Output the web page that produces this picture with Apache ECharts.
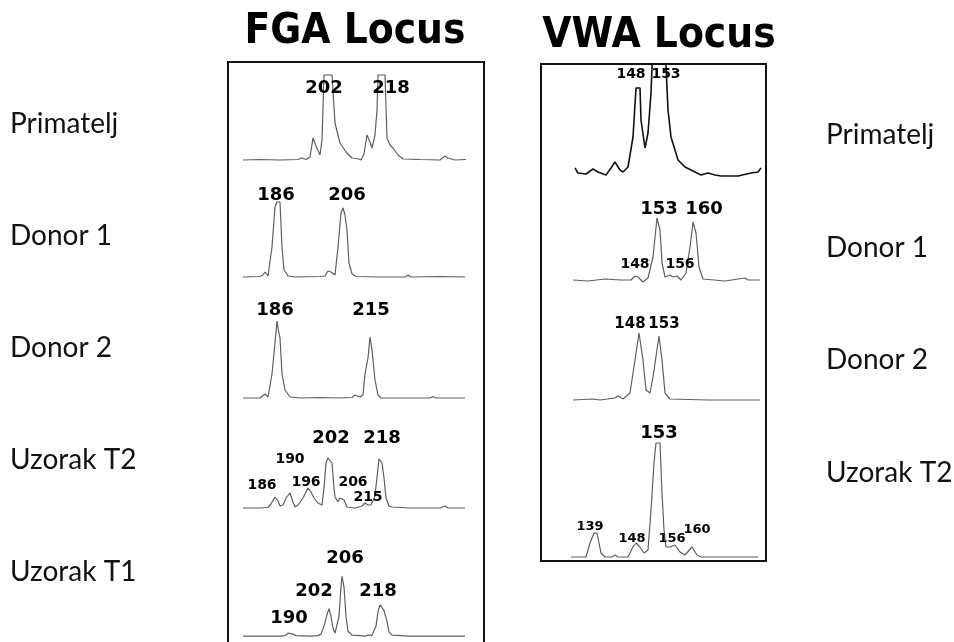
<!DOCTYPE html>
<html>
<head>
<meta charset="utf-8">
<title>FGA / VWA Locus</title>
<script src="https://cdn.jsdelivr.net/npm/echarts@6/dist/echarts.min.js"></script>
<style>
  html, body { margin: 0; padding: 0; background: #fff; }
  #chart { width: 954px; height: 642px; }
</style>
</head>
<body>
<div id="chart"></div>
<script>
// row names
const fgaRows = ["Primatelj", "Donor 1", "Donor 2", "Uzorak T2", "Uzorak T1"];
const vwaRows = ["Primatelj", "Donor 1", "Donor 2", "Uzorak T2"];

// FGA traces: [scan position, signal]
const fgaPrimatelj = [[3,0],[20,0.5],[40,0],[58,0.5],[62,2],[66,0.5],[70,3],[73,22],[76,14],[80,5],[82,20],[84,85],[92,85],[95,37],[100,17],[106,8],[112,2],[117,1.5],[121,0],[124,6],[127,25],[130,18],[132,12],[135,25],[137,50],[138,85],[145,85],[147,22],[150,15],[153,12],[158,5],[163,1],[180,0.5],[200,0],[205,4],[208,2],[215,0],[226,0.5]];
const fgaDonor1 = [[3,0],[20,0.5],[23,2],[25,5],[28,1],[30,2],[32,30],[35,70],[37,75],[40,75],[42,30],[44,7],[48,1],[55,0],[80,0.5],[85,1],[88,6],[91,5],[93,6],[95,2],[98,30],[101,64],[103,69],[105,62],[107,47],[109,14],[112,3],[116,0.5],[140,0],[165,0],[168,2],[171,0],[200,0.5],[225,0]];
const fgaDonor2 = [[3,0],[20,0],[22,0.5],[25,4],[28,1],[30,2],[32,24],[35,55],[37,77],[38,70],[40,60],[42,24],[45,8],[50,1],[60,0],[80,0.5],[100,0],[112,0.5],[115,3],[117,4],[120,1],[123,3],[125,24],[128,40],[130,61],[132,48],[135,18],[138,3],[141,0],[170,0],[190,0],[193,1.5],[196,0],[225,0]];
const fgaUzorakT2 = [[3,0],[20,0],[28,0.5],[31,4],[35,11],[38,7],[40,2],[43,3],[46,10],[50,15],[53,6],[55,1],[58,3],[63,10],[66,16],[68,20],[71,16],[74,10],[78,5],[82,3],[84,20],[86,45],[88,50],[90,49],[92,45],[94,20],[95,11],[98,6],[100,10],[102,12],[104,8],[107,1],[115,0],[122,2],[125,5],[128,3],[131,3],[133,2],[135,12],[137,31],[139,49],[140,50],[142,45],[144,30],[146,10],[149,2],[152,1],[170,0],[200,0],[205,2],[208,0],[225,0]];
const fgaUzorakT1 = [[3,0],[20,0],[40,0],[45,0.5],[48,3],[50,5],[53,2],[56,0.5],[70,0],[78,0.5],[81,2],[84,10],[87,22],[89,28],[91,20],[93,8],[95,3],[97,2],[99,20],[101,50],[102,61],[104,50],[106,20],[108,5],[112,1],[120,0.5],[125,0],[128,1],[132,1],[136,10],[138,25],[140,32],[142,33],[144,26],[147,15],[149,4],[152,1],[170,0],[200,0],[225,0]];

// VWA traces: [scan position, signal]
const vwaPrimatelj = [[5,5],[8,0],[16,-1],[23,4],[28,1],[36,-2],[41,5],[45,11],[50,3],[53,1],[58,6],[63,36],[66,85],[70,85],[71,53],[75,25],[78,40],[81,80],[83,130],[95,130],[98,63],[101,36],[108,13],[115,6],[125,1],[131,-2],[138,0],[145,-2],[151,-3],[168,-3],[181,0],[188,1],[191,5]];
const vwaDonor1 = [[3,0],[18,-1],[35,1],[51,0],[61,0],[65,4],[68,3],[73,-2],[78,2],[83,23],[87,62],[90,50],[92,17],[95,3],[100,5],[103,3],[107,4],[111,0],[116,7],[120,33],[123,58],[126,47],[129,13],[133,1],[155,-1],[175,2],[178,0],[190,0]];
const vwaDonor2 = [[3,0],[23,1],[25,3],[30,0],[45,2],[48,4],[53,1],[60,7],[65,40],[69,67],[73,40],[76,10],[80,7],[83,23],[89,64],[92,40],[95,7],[100,1],[138,0],[140,1.5],[143,0],[190,0]];
const vwaUzorakT2 = [[1,0],[16,0],[20,14],[24,24],[27,24],[31,4],[35,0],[42,0],[45,2],[48,0],[58,0],[63,10],[66,14],[70,10],[74,4],[78,7],[81,47],[84,94],[86,114],[90,114],[92,64],[94,27],[96,10],[100,10],[105,12],[110,5],[115,2],[122,10],[127,2],[131,0],[188,0]];

// allele labels: [scan position, signal, allele]
const fgaPrimateljAlleles = [[84,72,"202"],[151,72,"218"]];
const fgaDonor1Alleles = [[36,82,"186"],[107,82,"206"]];
const fgaDonor2Alleles = [[35,88,"186"],[131,88,"215"]];
const fgaUzorakT2Alleles = [[91,70,"202"],[142,70,"218"]];
const fgaUzorakT2Minor = [[50,49,"190"],[22,23,"186"],[66,26,"196"],[113,26,"206"],[128,11,"215"]];
const fgaUzorakT1Alleles = [[105,79,"206"],[74,46,"202"],[138,46,"218"],[49,18,"190"]];
const vwaPrimateljMinor = [[61,99,"148"],[96,99,"153"]];
const vwaDonor1Alleles = [[89,71,"153"],[134,71,"160"]];
const vwaDonor1Minor = [[65,16,"148"],[110,16,"156"]];
const vwaDonor2Minor = [[60,76,"148"],[94,76,"153"]];
const vwaUzorakT2Alleles = [[89,124,"153"]];
const vwaUzorakT2Minor = [[20,30,"139"],[62,18,"148"],[102,18,"156"],[127,27,"160"]];

const chart = echarts.init(document.getElementById("chart"));

const FGA = { left: 240, width: 230 };
const VWA = { left: 570, width: 195 };
const Y_MIN = -6;

// panel layout: which trace goes where (baseline in px)
const panels = [
  { box: FGA, baseline: 160, yMax: 98,  line: fgaPrimatelj, big: fgaPrimateljAlleles, small: [] },
  { box: FGA, baseline: 277, yMax: 100, line: fgaDonor1,    big: fgaDonor1Alleles,    small: [] },
  { box: FGA, baseline: 398, yMax: 100, line: fgaDonor2,    big: fgaDonor2Alleles,    small: [] },
  { box: FGA, baseline: 508, yMax: 100, line: fgaUzorakT2,  big: fgaUzorakT2Alleles,  small: fgaUzorakT2Minor },
  { box: FGA, baseline: 638, yMax: 100, line: fgaUzorakT1,  big: fgaUzorakT1Alleles,  small: [] },
  { box: VWA, baseline: 173, yMax: 109, line: vwaPrimatelj, big: [],                  small: vwaPrimateljMinor, dark: true },
  { box: VWA, baseline: 280, yMax: 100, line: vwaDonor1,    big: vwaDonor1Alleles,    small: vwaDonor1Minor },
  { box: VWA, baseline: 400, yMax: 100, line: vwaDonor2,    big: [],                  small: vwaDonor2Minor, mid: true },
  { box: VWA, baseline: 557, yMax: 130, line: vwaUzorakT2,  big: vwaUzorakT2Alleles,  small: vwaUzorakT2Minor, tiny: true },
];

const grid = [], xAxis = [], yAxis = [], series = [];
panels.forEach((p, i) => {
  grid.push({
    left: p.box.left,
    width: p.box.width,
    top: p.baseline - p.yMax,
    height: p.yMax - Y_MIN,
  });
  xAxis.push({ type: "value", gridIndex: i, min: 0, max: p.box.width, show: false });
  yAxis.push({ type: "value", gridIndex: i, min: Y_MIN, max: p.yMax, show: false });
  series.push({
    type: "line",
    xAxisIndex: i,
    yAxisIndex: i,
    data: p.line,
    showSymbol: false,
    clip: true,
    lineStyle: { color: p.dark ? "#111" : "#5e5e5e", width: p.dark ? 1.6 : 1.2 },
    silent: true,
  });
  const labelSeries = (data, size) => ({
    type: "scatter",
    xAxisIndex: i,
    yAxisIndex: i,
    data: data,
    symbolSize: 0,
    itemStyle: { color: "#000" },
    silent: true,
    z: 5,
    label: {
      show: true,
      position: "inside",
      formatter: (d) => d.value[2],
      fontFamily: "DejaVu Sans",
      fontWeight: "bold",
      fontSize: size,
      color: "#000",
      textBorderWidth: 0,
      opacity: 1,
    },
  });
  if (p.big.length) series.push(labelSeries(p.big, 18));
  if (p.small.length) series.push(labelSeries(p.small, p.tiny ? 13 : p.mid ? 15 : 14));
});

const rowText = (name, x, y) => ({
  type: "text",
  x: x,
  y: y,
  style: {
    text: name,
    fontFamily: "Lato",
    fontSize: 28,
    fill: "#111",
    verticalAlign: "middle",
  },
});

const graphic = [
  { type: "rect", shape: { x: 228, y: 62, width: 256, height: 620 }, style: { fill: "none", stroke: "#111", lineWidth: 2 } },
  { type: "rect", shape: { x: 541, y: 64, width: 225, height: 497 }, style: { fill: "none", stroke: "#111", lineWidth: 2 } },
  {
    type: "text", x: 355, y: 32,
    style: { text: "FGA Locus", fontFamily: "DejaVu Sans Condensed", fontWeight: "bold", fontSize: 42, fill: "#000", align: "center", verticalAlign: "middle" },
  },
  {
    type: "text", x: 659, y: 36,
    style: { text: "VWA Locus", fontFamily: "DejaVu Sans Condensed", fontWeight: "bold", fontSize: 42, fill: "#000", align: "center", verticalAlign: "middle" },
  },
];
const fgaRowY = [124, 236, 348, 460, 572];
const vwaRowY = [135, 248, 360, 473];
fgaRows.forEach((r, i) => graphic.push(rowText(r, 10, fgaRowY[i])));
vwaRows.forEach((r, i) => graphic.push(rowText(r, 826, vwaRowY[i])));

chart.setOption({
  animation: false,
  backgroundColor: "#fff",
  grid: grid,
  xAxis: xAxis,
  yAxis: yAxis,
  series: series,
  graphic: graphic,
});
</script>
</body>
</html>
